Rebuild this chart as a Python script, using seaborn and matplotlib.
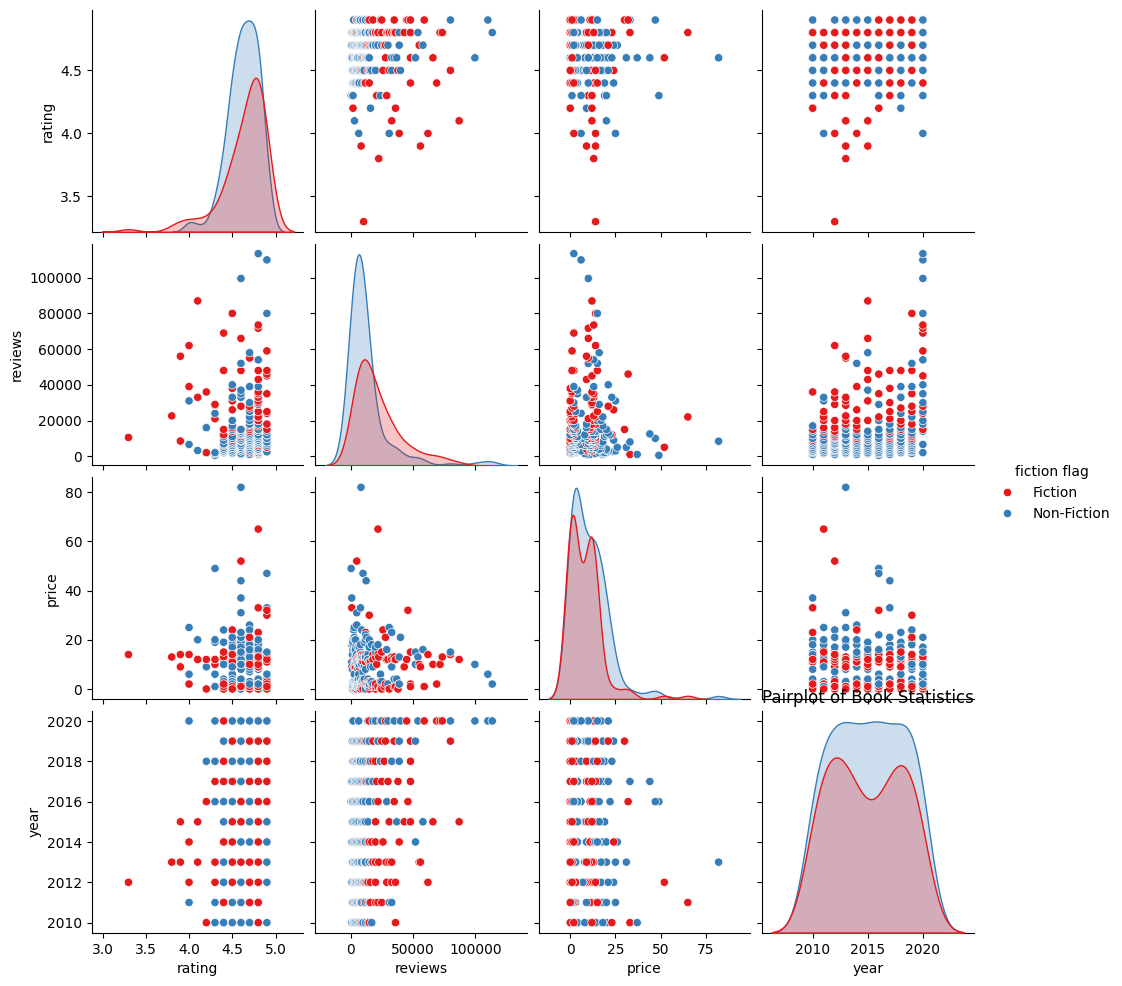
import numpy as np
import pandas as pd
import seaborn as sns
import matplotlib
matplotlib.use("Agg")
import matplotlib.pyplot as plt

years = [2010, 2011, 2012, 2013, 2014, 2015, 2016, 2017, 2018, 2019, 2020]

# Fiction books: number per year, then rating / reviews / price (grouped by year)
fic_counts = [10, 12, 13, 12, 10, 7, 8, 11, 13, 12, 9]
fic_rating = [
    4.2, 4.8, 4.7, 4.8, 4.6, 4.7, 4.8, 4.5, 4.4, 4.6,             # 2010
    4.8, 4.5, 4.6, 4.7, 4.8, 4.7, 4.4, 4.6, 4.8, 4.7, 4.5, 4.8,   # 2011
    3.3, 4.0, 4.3, 4.5, 4.6, 4.7, 4.8, 4.8, 4.7, 4.6, 4.8, 4.5, 4.7,  # 2012
    3.8, 3.9, 4.3, 4.5, 4.1, 4.8, 4.7, 4.6, 4.9, 4.8, 4.7, 4.8,   # 2013
    4.0, 4.4, 4.5, 4.8, 4.9, 4.8, 4.7, 4.9, 4.6, 4.8,             # 2014
    4.1, 4.6, 3.9, 4.8, 4.5, 4.8, 4.6,                            # 2015
    4.2, 4.9, 4.8, 4.7, 4.6, 4.9, 4.5, 4.8,                       # 2016
    4.3, 4.5, 4.8, 4.9, 4.7, 4.8, 4.6, 4.9, 4.7, 4.8, 4.4,        # 2017
    4.4, 4.5, 4.7, 4.8, 4.9, 4.8, 4.7, 4.9, 4.8, 4.6, 4.8, 4.7, 4.9,  # 2018
    4.5, 4.9, 4.7, 4.8, 4.9, 4.8, 4.7, 4.9, 4.6, 4.8, 4.7, 4.9,   # 2019
    4.8, 4.8, 4.9, 4.4, 4.9, 4.8, 4.7, 4.9, 4.6,                  # 2020
]
fic_reviews = [
    36000, 1000, 8000, 12000, 6000, 3000, 15000, 10000, 4000, 9000,
    22000, 9000, 5000, 14000, 3000, 20000, 6000, 11000, 8000, 2000, 16000, 25000,
    10500, 62000, 29000, 14000, 5000, 20000, 33000, 36000, 9000, 4000, 12000, 7000, 16000,
    22600, 56000, 28500, 20000, 33000, 31000, 55000, 9000, 12000, 6000, 15000, 18000,
    39000, 15000, 26000, 10000, 5000, 20000, 7000, 12000, 3000, 17000,
    87000, 66000, 8500, 43000, 31000, 20000, 48000,
    2000, 46000, 35000, 8000, 15000, 5000, 10000, 22000,
    21000, 38000, 30000, 48000, 10000, 14000, 6000, 18000, 25000, 4000, 12000,
    48000, 8000, 12000, 20000, 5000, 15000, 27000, 10000, 33000, 6000, 3000, 18000, 24000,
    80000, 15000, 28000, 48000, 10000, 22000, 5000, 35000, 12000, 8000, 18000, 25000,
    73500, 71700, 59000, 69000, 24000, 35000, 15000, 45000, 28000,
]
fic_price = [
    12, 33, 0, 23, 11, 1, 2, 12, 2, 14,
    65, 10, 1, 1, 9, 0, 13, 2, 13, 0, 11, 15,
    14, 14, 12, 1, 52, 1, 13, 1, 11, 2, 0, 9, 3,
    13, 9, 12, 1, 12, 0, 10, 2, 11, 12, 3, 1,
    2, 1, 24, 11, 0, 1, 1, 13, 9, 2,
    12, 10, 14, 9, 0, 2, 1,
    0, 32, 12, 11, 1, 1, 2, 14,
    10, 0, 12, 2, 1, 12, 2, 14, 1, 9, 0,
    15, 1, 2, 13, 11, 0, 1, 13, 9, 1, 12, 12, 3,
    14, 30, 21, 1, 0, 1, 1, 13, 11, 2, 12, 0,
    13, 10, 1, 2, 0, 1, 11, 12, 2,
]

# Non-fiction books
nf_counts = [13, 13, 14, 15, 13, 14, 15, 13, 14, 15, 14]
nf_rating = [
    4.6, 4.3, 4.6, 4.7, 4.8, 4.7, 4.5, 4.5, 4.6, 4.4, 4.7, 4.8, 4.9,        # 2010
    4.0, 4.3, 4.4, 4.7, 4.8, 4.5, 4.6, 4.7, 4.4, 4.8, 4.8, 4.6, 4.5,        # 2011
    4.4, 4.6, 4.7, 4.5, 4.8, 4.7, 4.8, 4.5, 4.6, 4.9, 4.6, 4.4, 4.8, 4.7,   # 2012
    4.1, 4.6, 4.6, 4.7, 4.8, 4.9, 4.5, 4.7, 4.5, 4.4, 4.8, 4.8, 4.6, 4.7, 4.5,  # 2013
    4.6, 4.7, 4.4, 4.7, 4.5, 4.8, 4.6, 4.9, 4.5, 4.8, 4.6, 4.8, 4.7,        # 2014
    4.7, 4.6, 4.5, 4.9, 4.5, 4.7, 4.8, 4.4, 4.6, 4.6, 4.8, 4.7, 4.5, 4.8,   # 2015
    4.3, 4.9, 4.5, 4.7, 4.4, 4.8, 4.6, 4.7, 4.6, 4.8, 4.5, 4.8, 4.5, 4.6, 4.7,  # 2016
    4.6, 4.9, 4.7, 4.5, 4.7, 4.8, 4.5, 4.6, 4.4, 4.8, 4.6, 4.7, 4.8,        # 2017
    4.2, 4.3, 4.6, 4.7, 4.5, 4.7, 4.8, 4.5, 4.8, 4.9, 4.8, 4.6, 4.6, 4.7,   # 2018
    4.4, 4.6, 4.8, 4.7, 4.5, 4.8, 4.5, 4.7, 4.6, 4.8, 4.4, 4.6, 4.8, 4.7, 4.9,  # 2019
    4.8, 4.9, 4.6, 4.9, 4.0, 4.3, 4.5, 4.7, 4.8, 4.6, 4.7, 4.5, 4.7, 4.6,   # 2020
]
nf_reviews = [
    1000, 2000, 5000, 8000, 3000, 12000, 6000, 17000, 10000, 4000, 7000, 14000, 2500,
    31000, 1500, 4000, 6000, 9000, 33000, 3000, 12000, 5000, 2000, 8000, 15000, 7000,
    3000, 6000, 9000, 2000, 4000, 11000, 7000, 5000, 13000, 8000, 1000, 6500, 3500, 10000,
    3200, 8400, 5000, 3000, 7000, 12000, 2000, 6000, 15000, 9000, 4000, 11000, 1500, 17000, 6000,
    52000, 5000, 3000, 8000, 11000, 2000, 6000, 14000, 4000, 9000, 1000, 7000, 12000,
    58000, 37000, 3000, 12000, 5000, 9000, 2000, 11000, 6000, 14000, 4000, 7000, 1500, 10000,
    500, 10000, 3000, 6000, 2000, 9000, 12000, 4000, 7000, 29000, 15000, 5000, 8000, 1500, 20000,
    12500, 8000, 3000, 5000, 9000, 2000, 6000, 15000, 7000, 11000, 4000, 1000, 18000,
    16000, 24000, 33000, 39000, 5000, 3000, 8000, 10000, 2000, 6000, 12000, 4000, 14000, 7000,
    2600, 52000, 39000, 22000, 8000, 5000, 3000, 11000, 6000, 15000, 4000, 9000, 1500, 13000, 7000,
    113500, 110000, 99600, 80000, 6600, 2000, 20000, 30000, 54000, 14000, 25000, 40000, 18000, 35000,
]
nf_price = [
    37, 20, 12, 15, 2, 8, 2, 18, 4, 11, 1, 14, 3,
    25, 19, 0, 2, 12, 9, 3, 20, 1, 16, 18, 1, 2,
    0, 17, 24, 2, 13, 13, 1, 2, 21, 2, 11, 4, 16, 7,
    20, 82, 31, 25, 2, 13, 1, 8, 17, 3, 0, 9, 19, 3, 2,
    15, 26, 2, 12, 3, 1, 9, 4, 20, 2, 18, 11, 14,
    16, 4, 2, 13, 1, 10, 3, 19, 8, 2, 17, 0, 14, 4,
    49, 47, 6, 11, 2, 1, 22, 3, 13, 16, 2, 12, 4, 0, 15,
    44, 33, 21, 3, 12, 18, 1, 2, 10, 4, 16, 9, 2,
    9, 6, 23, 13, 2, 1, 12, 3, 19, 4, 0, 11, 14, 17,
    24, 10, 2, 18, 2, 14, 1, 9, 4, 20, 0, 13, 8, 2, 1,
    2, 6, 10, 15, 6, 1, 17, 2, 13, 12, 3, 21, 9, 4,
]

fic = pd.DataFrame({
    "rating": fic_rating,
    "reviews": fic_reviews,
    "price": fic_price,
    "year": np.repeat(years, fic_counts),
    "fiction flag": "Fiction",
})
nf = pd.DataFrame({
    "rating": nf_rating,
    "reviews": nf_reviews,
    "price": nf_price,
    "year": np.repeat(years, nf_counts),
    "fiction flag": "Non-Fiction",
})
# mix the two groups so neither colour is always drawn on top
df = pd.concat([fic, nf]).sort_values("reviews", kind="stable").reset_index(drop=True)

g = sns.pairplot(
    df,
    vars=["rating", "reviews", "price", "year"],
    hue="fiction flag",
    hue_order=["Fiction", "Non-Fiction"],
    palette="Set1",
)
plt.title("Pairplot of Book Statistics")

plt.savefig("out.png", dpi=100, bbox_inches="tight")
